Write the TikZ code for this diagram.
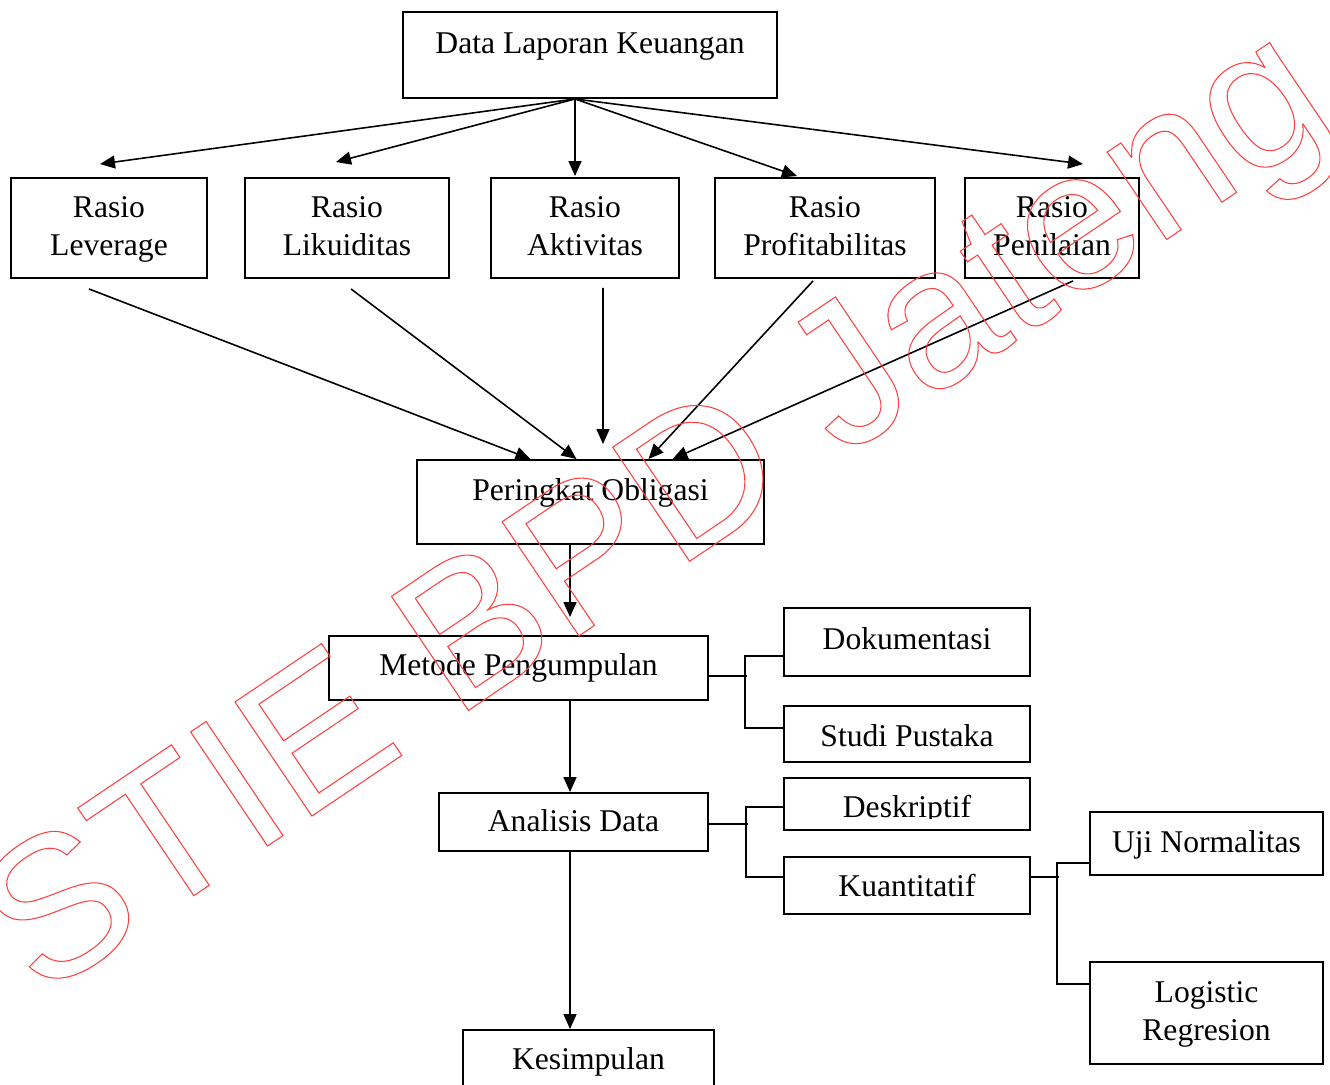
\documentclass[tikz,border=0pt]{standalone}
\usepackage{fontspec}
\setmainfont{Liberation Serif}
\newfontfamily\wmfont{Liberation Sans}
\usetikzlibrary{calc}
\usetikzlibrary{positioning}
\usetikzlibrary{arrows.meta}

\tikzset{
	kotak/.style={draw, line width=1.1pt, inner sep=0pt},
	teks/.style={font=\fontsize{18}{21.5}\selectfont, align=center, inner sep=0pt, execute at begin node=\strut},
	garis/.style={line width=0.9pt},
	panah/.style={garis, -{Triangle[length=3mm, width=2.6mm]}},
}

\begin{document}
\begin{tikzpicture}[x=0.2mm, y=-0.2mm]
		\newcommand\kotak[7]{
			% (nama, x1, y1, x2, y2, y teks, teks)
			\node[kotak, minimum width={(#4-#2)*0.2mm}, minimum height={(#5-#3)*0.2mm}] (#1) at ({(#2+#4)/2}, {(#3+#5)/2}) {};
			\node[teks] (#1t) at ({(#2+#4)/2}, #6) {#7\strut};
		}
		\useasboundingbox (0,0) rectangle (1330,1084);
		
		\kotak{dlk}{403}{12}{777}{98}{46}{Data Laporan Keuangan}
		\kotak{lev}{11}{178}{207}{278}{232}{Rasio\\Leverage}
		\kotak{lik}{245}{178}{449}{278}{232}{Rasio\\Likuiditas}
		\kotak{akt}{491}{178}{679}{278}{232}{Rasio\\Aktivitas}
		\kotak{pro}{715}{178}{935}{278}{232}{Rasio\\Profitabilitas}
		\kotak{pen}{965}{178}{1139}{278}{232}{Rasio\\Penilaian}
		\kotak{po}{417}{460}{764}{544}{493}{Peringkat Obligasi}
		\kotak{mp}{329}{636}{708}{700}{668}{Metode Pengumpulan}
		\kotak{dok}{784}{608}{1030}{676}{641.5}{Dokumentasi}
		\kotak{stp}{784}{706}{1030}{762}{739}{Studi Pustaka}
		\kotak{ad}{439}{793}{708}{851}{824}{Analisis Data}
		\kotak{kua}{784}{857}{1030}{914}{888.5}{Kuantitatif}
		\kotak{uji}{1090}{812}{1323}{875}{845}{Uji Normalitas}
		\kotak{lr}{1090}{962}{1323}{1064}{1017}{Logistic\\Regresion}
		\kotak{ks}{463}{1030}{714}{1110}{1062}{Kesimpulan}
		
		% teks deskriptif terpotong di bawah
		\node[kotak, minimum width=49.2mm, minimum height=10.4mm] (des) at (907,804) {};
		\begin{scope}
			\clip (des.north west) rectangle ($(des.east)+(0,14)$);
			\node[teks] (dest) at (907,809.5) {Deskriptif\strut};
		\end{scope}
		
		% dari data laporan ke rasio
		\coordinate (d0) at ($(dlk.south)+(-15,0)$);
		\draw[panah] (d0) -- ($(lev.north)+(-9,-13)$);
		\draw[panah] (d0) -- ($(lik.north)+(-11,-15)$);
		\draw[panah] (d0) -- ($(akt.north)+(-10,-1)$);
		\draw[panah] (d0) -- ($(pro.north)+(-28,-1)$);
		\draw[panah] (d0) -- ($(pen.north)+(31,-13)$);
		
		% dari rasio ke peringkat
		\draw[panah] ($(lev.south)+(-20,10)$) -- ($(po.north)+(-60,0)$);
		\draw[panah] ($(lik.south)+(4,10)$) -- ($(po.north)+(-14,0)$);
		\draw[panah] ($(akt.south)+(18,9)$) -- ($(po.north)+(12.5,-15)$);
		\draw[panah] ($(pro.south)+(-12,2)$) -- ($(po.north)+(58,0)$);
		\draw[panah] ($(pen.south)+(21,2)$) -- ($(po.north)+(82,0)$);
		
		\draw[panah] ($(po.south)+(-20.5,0)$) -- ($(mp.north)+(51.5,-18)$);
		\draw[panah] ($(mp.south)+(51.5,0)$) -- ($(ad.north)+(-3.5,0)$);
		\draw[panah] ($(ad.south)+(-3.5,0)$) -- ($(ks.north)+(-18.5,0)$);
		
		% cabang
		\draw[garis] ($(mp.east)+(0,8)$) -- ++(38,0);
		\draw[garis] ($(dok.west)+(0,14)$) -| ($(stp.west)+(-38,-6)$) -- ($(stp.west)+(0,-6)$);
		\draw[garis] ($(ad.east)+(0,2)$) -- ++(39,0);
		\draw[garis] ($(des.west)+(0,3)$) -| ($(kua.west)+(-37,-8.5)$) -- ($(kua.west)+(0,-8.5)$);
		\draw[garis] ($(kua.east)+(0,-8.5)$) -- ++(28,0);
		\draw[garis] ($(uji.west)+(0,19.5)$) -| ($(lr.west)+(-32,-29)$) -- ($(lr.west)+(0,-29)$);
		
		% cap air
		\node[rotate=34, anchor=base, inner sep=0pt, font=\wmfont\fontsize{113.8}{114}\selectfont] (wm) at (690,561)
			{\special{pdf:literal direct 1 Tr 0.6 w 1 0.25 0.25 RG}STIE BPD Jateng\special{pdf:literal direct 0 Tr}};
		
	\end{tikzpicture}
\end{document}
